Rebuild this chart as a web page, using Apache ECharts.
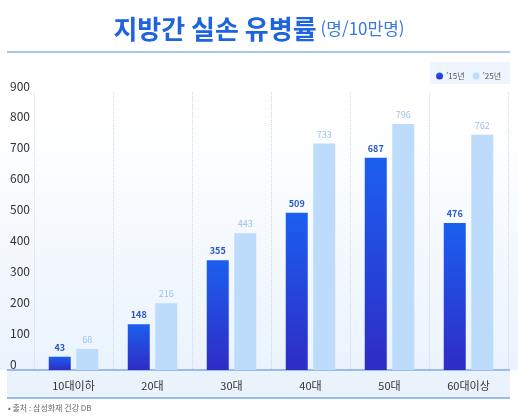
<!DOCTYPE html>
<html lang="ko">
<head>
<meta charset="UTF-8">
<script src="https://cdn.jsdelivr.net/npm/echarts@6/dist/echarts.min.js"></script>
<style>
  html, body { margin: 0; padding: 0; background: #fff; }
  #chart { width: 518px; height: 419px; }
</style>
</head>
<body>
<div id="chart"></div>
<script>
const categories = ['10대이하', '20대', '30대', '40대', '50대', '60대이상'];
const values15 = [43, 148, 355, 509, 687, 476];
const values25 = [68, 216, 443, 733, 796, 762];
const yTicks = [0, 100, 200, 300, 400, 500, 600, 700, 800, 900];

const font = '"Noto Sans CJK KR", "Noto Sans", sans-serif';
const chart = echarts.init(document.getElementById('chart'));

chart.setOption({
  textStyle: { fontFamily: font },
  title: {
    text: '{a|지방간 실손 유병률} {b|(명/10만명)}',
    left: 'center', top: 11,
    textStyle: {
      fontWeight: 'normal',
      rich: {
        a: { fontSize: 26, fontWeight: 'bold', color: '#1e63e0', fontFamily: font },
        b: { fontSize: 17, fontWeight: 'normal', color: '#3a78e3', fontFamily: font }
      }
    }
  },
  graphic: [
    { type: 'rect', shape: { x: 0, y: 120, width: 518, height: 250 }, z: -10,
      style: { fill: new echarts.graphic.LinearGradient(0, 0, 0, 1, [
        { offset: 0, color: 'rgba(255,255,255,1)' }, { offset: 1, color: '#eaf3fd' }]) } },
    { type: 'line', shape: { x1: 7, y1: 52, x2: 510, y2: 52 }, style: { stroke: '#8db2e6', lineWidth: 1.5 } },
    { type: 'rect', shape: { x: 7, y: 370, width: 503, height: 28 }, z: -5, style: { fill: '#eaf2fc' } },
    { type: 'line', shape: { x1: 7, y1: 398, x2: 510, y2: 398 }, style: { stroke: '#7fa9e6', lineWidth: 1.5 } },
    { type: 'line', shape: { x1: 7, y1: 370, x2: 510, y2: 370 }, style: { stroke: '#7fa9e6', lineWidth: 1.5 } },
    { type: 'rect', shape: { x: 430, y: 62, width: 80, height: 22 }, z: -5, style: { fill: '#eef5fd' } },
    { type: 'text', left: 8, top: 404, style: { text: '• 출처 : 삼성화재 건강 DB', fontSize: 8, fill: '#666', fontFamily: font } }
  ],
  legend: {
    right: 12, top: 67, itemWidth: 7, itemHeight: 7, itemGap: 8, icon: 'circle',
    textStyle: { fontSize: 8, color: '#555', padding: [0, 0, 0, -2] },
    data: ['\u201915년', '\u201925년']
  },
  grid: { left: 34, right: 10, top: 92, bottom: 49 },
  xAxis: {
    type: 'category', data: categories,
    axisLine: { show: false }, axisTick: { show: false },
    axisLabel: { fontSize: 11, color: '#333', margin: 10 },
    splitLine: { show: true, lineStyle: { type: 'dotted', color: '#cfd8e4' } }
  },
  yAxis: {
    type: 'value', min: 0, max: 900, interval: 100,
    splitLine: { show: false },
    axisLabel: { fontSize: 12, color: '#333', align: 'left', margin: 24, verticalAlign: 'bottom',
      formatter: v => yTicks.includes(v) ? String(v) : '' }
  },
  series: [
    {
      name: '\u201915년', type: 'bar', data: values15, barWidth: 22, barGap: '25%',
      itemStyle: { color: new echarts.graphic.LinearGradient(0, 0, 0, 1, [
        { offset: 0, color: '#1b5ff0' }, { offset: 1, color: '#2f2cc4' }]) },
      label: { show: true, position: 'top', fontSize: 9, fontWeight: 'bold', color: '#2a56c6' }
    },
    {
      name: '\u201925년', type: 'bar', data: values25, barWidth: 22,
      itemStyle: { color: '#bddcfb' },
      label: { show: true, position: 'top', fontSize: 9, color: '#9cc2ee' }
    }
  ]
});
</script>
</body>
</html>
